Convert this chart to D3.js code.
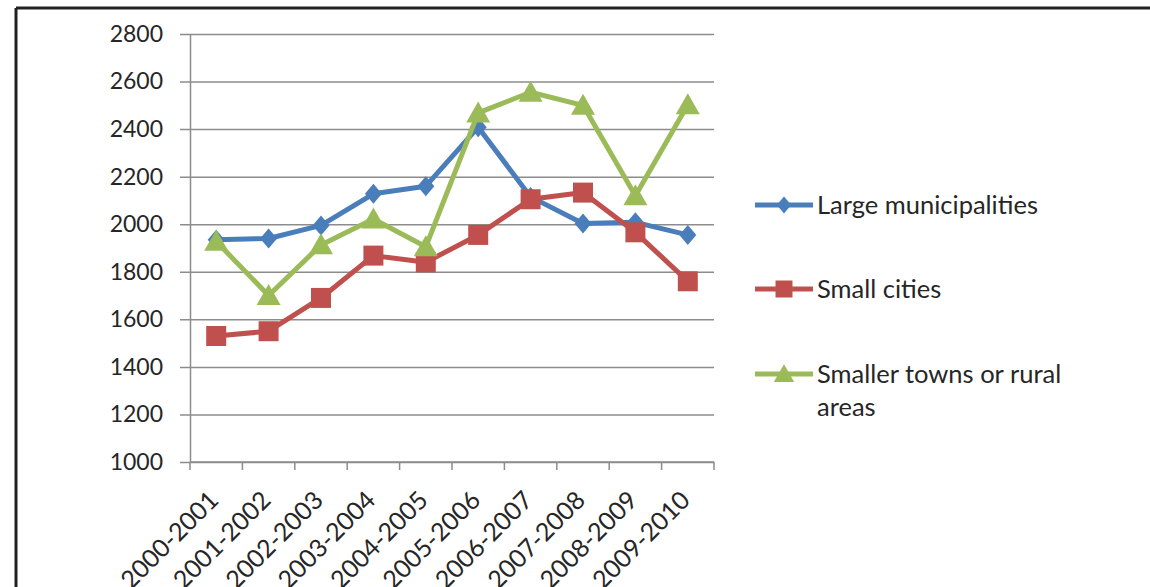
<!DOCTYPE html>
<html>
<head>
<meta charset="utf-8">
<script src="https://cdn.jsdelivr.net/npm/d3@7"></script>
<style>
  html, body { margin: 0; padding: 0; background: #fff; }
  svg { display: block; }
  text { font-family: Lato, "Open Sans", sans-serif; fill: #262626; }
</style>
</head>
<body>
<svg id="chart" width="1150" height="587"></svg>
<script>
const CATEGORIES = ['2000-2001', '2001-2002', '2002-2003', '2003-2004', '2004-2005',
  '2005-2006', '2006-2007', '2007-2008', '2008-2009', '2009-2010'];
const LARGE_MUNICIPALITIES = [1935, 1940, 1995, 2128, 2160, 2408, 2115, 2003, 2008, 1955];
const SMALL_CITIES = [1530, 1550, 1690, 1868, 1840, 1955, 2105, 2133, 1966, 1760];
const SMALLER_TOWNS = [1928, 1700, 1913, 2022, 1905, 2468, 2555, 2500, 2120, 2502];
const Y_TICKS = [1000, 1200, 1400, 1600, 1800, 2000, 2200, 2400, 2600, 2800];
const SERIES_NAMES = ['Large municipalities', 'Small cities', 'Smaller towns or rural areas'];

const COLORS = ['#4a7ebb', '#c0504d', '#9bbb59'];
const GRID_COLOR = '#8c8c8c';

const PLOT_LEFT = 190;
const PLOT_RIGHT = 714;
const PLOT_TOP = 34;
const PLOT_BOTTOM = 462;
const LINE_WIDTH = 5;

// marker shapes, sized like the Excel ones (w x h in px)
const MARKER_SHAPES = [
  { kind: 'diamond', w: 17, h: 20 },
  { kind: 'square', w: 20, h: 20 },
  { kind: 'triangle', w: 24, h: 21 }
];

function markerPath(shape, k) {
  const w = shape.w * k / 2, h = shape.h * k / 2;
  const p = d3.path();
  if (shape.kind === 'diamond') {
    p.moveTo(0, -h); p.lineTo(w, 0); p.lineTo(0, h); p.lineTo(-w, 0);
  } else if (shape.kind === 'square') {
    p.rect(-w, -h, 2 * w, 2 * h);
  } else {
    p.moveTo(0, -h * 1.1); p.lineTo(w, h * 0.9); p.lineTo(-w, h * 0.9);
  }
  p.closePath();
  return p.toString();
}

const svg = d3.select('#chart');

// frame lines (top + left only are visible)
svg.append('line').attr('x1', 16).attr('x2', 1150).attr('y1', 8).attr('y2', 8)
  .attr('stroke', '#222').attr('stroke-width', 3);
svg.append('line').attr('x1', 16).attr('x2', 16).attr('y1', 8).attr('y2', 587)
  .attr('stroke', '#222').attr('stroke-width', 3);

const x = d3.scaleBand().domain(CATEGORIES).range([PLOT_LEFT, PLOT_RIGHT]);
const y = d3.scaleLinear().domain([1000, 2800]).range([PLOT_BOTTOM, PLOT_TOP]);

// gridlines
const gridG = svg.append('g').attr('transform', `translate(${PLOT_RIGHT},0)`)
  .call(d3.axisLeft(y).tickValues(Y_TICKS).tickSize(PLOT_RIGHT - PLOT_LEFT + 10).tickFormat(''));
gridG.select('.domain').remove();
gridG.selectAll('line').attr('stroke', GRID_COLOR).attr('stroke-width', 1.5);

// y axis line + labels
const yLabels = svg.append('g').attr('transform', `translate(${PLOT_LEFT},0)`)
  .call(d3.axisLeft(y).tickValues(Y_TICKS).tickSize(0).tickPadding(27).tickFormat(d3.format('d')));
yLabels.select('.domain').attr('stroke', GRID_COLOR).attr('stroke-width', 1.5);
yLabels.selectAll('text').attr('font-size', 23).attr('fill', '#262626')
  .style('font-family', 'Lato, "Open Sans", sans-serif');

// x axis with boundary ticks
const xG = svg.append('g').attr('transform', `translate(0,${PLOT_BOTTOM})`);
xG.append('line').attr('x1', PLOT_LEFT).attr('x2', PLOT_RIGHT).attr('y1', 0).attr('y2', 0)
  .attr('stroke', GRID_COLOR).attr('stroke-width', 1.5);
const boundaries = CATEGORIES.map(c => x(c)).concat([x(CATEGORIES[CATEGORIES.length - 1]) + x.bandwidth()]);
xG.selectAll('.tick-mark').data(boundaries).enter().append('line')
  .attr('x1', d => d).attr('x2', d => d).attr('y1', 0).attr('y2', 8)
  .attr('stroke', GRID_COLOR).attr('stroke-width', 1.5);
// rotated labels run off the bottom edge, as in the source image
xG.selectAll('.xlabel').data(CATEGORIES).enter().append('text')
  .attr('transform', d => `translate(${x(d) + x.bandwidth() / 2 - 9},${27}) rotate(-45)`)
  .attr('text-anchor', 'end')
  .attr('dy', '0.72em')
  .attr('font-size', 25)
  .text(d => d);

// series
const allSeries = [LARGE_MUNICIPALITIES, SMALL_CITIES, SMALLER_TOWNS];
const line = d3.line()
  .x((d, i) => x(CATEGORIES[i]) + x.bandwidth() / 2)
  .y(d => y(d));

allSeries.forEach((vals, s) => {
  const g = svg.append('g');
  g.append('path').datum(vals).attr('d', line)
    .attr('fill', 'none').attr('stroke', COLORS[s]).attr('stroke-width', LINE_WIDTH)
    .attr('stroke-linejoin', 'round');
  g.selectAll('path.marker').data(vals).enter().append('path')
    .attr('class', 'marker')
    .attr('transform', (d, i) => `translate(${x(CATEGORIES[i]) + x.bandwidth() / 2},${y(d)})`)
    .attr('d', markerPath(MARKER_SHAPES[s], 1))
    .attr('fill', COLORS[s]);
});

// legend
const LEGEND_Y = [205, 289, 374];
const legend = svg.append('g');
SERIES_NAMES.forEach((name, s) => {
  const ly = LEGEND_Y[s];
  legend.append('line').attr('x1', 755).attr('x2', 813).attr('y1', ly).attr('y2', ly)
    .attr('stroke', COLORS[s]).attr('stroke-width', LINE_WIDTH);
  legend.append('path')
    .attr('transform', `translate(784,${ly})`)
    .attr('d', markerPath(MARKER_SHAPES[s], 0.85))
    .attr('fill', COLORS[s]);
  const t = legend.append('text').attr('x', 817).attr('y', ly).attr('dy', '0.35em')
    .attr('font-size', 25.5);
  if (s === 2) {
    t.text('Smaller towns or rural');
    legend.append('text').attr('x', 817).attr('y', ly + 33).attr('dy', '0.35em')
      .attr('font-size', 25.5).text('areas');
  } else {
    t.text(name);
  }
});
</script>
</body>
</html>
